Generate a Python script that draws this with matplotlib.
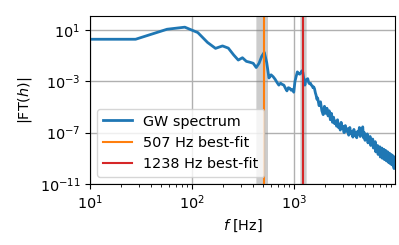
import matplotlib
matplotlib.use('Agg')
import matplotlib.pyplot as plt
import numpy as np

# GW spectrum: frequency (Hz) and log10 |FT(h)|
freq = [0, 28, 57, 85, 114, 142, 170, 199, 227, 256, 284, 312, 341, 369, 398,
        426, 454, 483, 511, 540, 568, 596, 625, 653, 682, 710, 738, 767, 795,
        824, 852, 880, 909, 937, 966, 994, 1022, 1051, 1079, 1108, 1136, 1164,
        1193, 1221, 1250, 1278, 1306, 1335, 1363, 1392, 1420, 1448, 1477, 1505,
        1534, 1562, 1590, 1619, 1647, 1676, 1704,
        1761, 1818, 1875, 1932, 1988, 2045, 2102, 2158, 2215, 2272, 2329, 2386,
        2442, 2499, 2556, 2613, 2670, 2726, 2783, 2840, 2897, 2954, 3010,
        3095, 3181, 3266, 3351, 3436, 3522, 3607, 3692, 3777, 3863, 3948, 4033,
        4118, 4204, 4289, 4374, 4459, 4544, 4630, 4715, 4800, 4885, 4970, 5056,
        5141, 5226, 5311, 5396, 5482, 5567, 5652, 5737, 5822, 5908, 5993, 6078,
        6163, 6248, 6334, 6419, 6504, 6589, 6674, 6760, 6845, 6930, 7015, 7100,
        7186, 7271, 7356, 7441, 7526, 7612, 7697, 7782, 7867, 7952, 8038, 8123,
        8208, 8293, 8378, 8464, 8549, 8634, 8719, 8804, 8890, 8975, 9060, 9145,
        9230, 9316, 9401, 9486, 9571, 9656, 9742]
log_ft = [0.27, 0.27, 1.05, 1.21, 0.79, 0.02, -0.44, -0.25, -0.42, -0.95, -1.35,
          -1.17, -1.45, -1.52, -1.6, -1.93, -1.6, -1.05, -0.75, -1.55, -2.75,
          -2.5, -2.65, -2.85, -3.1, -3.3, -3.15, -3.25, -3.3, -3.55, -3.75,
          -3.5, -3.55, -3.7, -3.65, -3.85, -3.0, -2.6, -2.27, -2.4, -2.45,
          -2.35, -2.19, -2.3, -2.9, -3.3, -2.9, -2.85, -2.8, -3.1, -3.2, -3.15,
          -3.3, -3.35, -3.5, -3.45, -3.6, -3.9, -4.1, -4.4, -4.3,
          -4.9, -4.6, -5.3, -5.6, -4.95, -5.5, -5.1, -5.7, -5.3, -6.0, -5.5,
          -6.2, -5.8, -6.3, -6.1, -6.5, -6.0, -6.6, -6.4, -6.8, -6.2, -6.7,
          -6.5,
          -7.0, -6.45, -6.9, -6.7, -7.2, -6.6, -7.1, -6.9, -7.35, -6.75, -7.2,
          -7.0, -7.4, -6.9, -7.1, -6.6, -7.3, -6.9, -7.1, -6.55, -7.4, -7.0,
          -7.6, -7.2, -7.5, -7.1, -7.8, -7.4, -7.7, -7.3, -8.0, -7.6, -7.9,
          -7.5, -8.2, -7.8, -8.1, -7.7, -8.5, -8.1, -8.4, -8.0, -8.7, -8.2,
          -8.6, -8.1, -8.9, -8.4, -8.7, -8.2, -9.0, -8.5, -8.8, -8.3, -9.1,
          -8.6, -8.9, -8.4, -9.2, -8.7, -9.0, -8.5, -9.3, -8.8, -9.1, -8.6,
          -9.4, -8.9, -9.2, -8.7, -9.5, -9.0, -9.3, -8.8, -9.6, -9.1, -9.8,
          -8.9, -9.6]

# best-fit peaks and their uncertainty bands (Hz)
peaks = [507, 1238]
peak_colors = ['tab:orange', 'tab:red']
bands_outer = [(424, 560), (1148, 1330)]
bands_inner = [(432, 550), (1160, 1318)]

plt.rcParams['font.size'] = 10.4


def main():
    fig = plt.figure(figsize=(3.99, 2.45), dpi=100)
    ax = fig.add_axes([90 / 399, 1 - 184 / 245, 305 / 399, (184 - 16.5) / 245])

    ax.plot(freq, 10.0 ** np.array(log_ft), color='tab:blue', lw=2,
            label='GW spectrum')
    for f, c, bo, bi in zip(peaks, peak_colors, bands_outer, bands_inner):
        ax.axvspan(*bo, color='gray', alpha=0.25, lw=0)
        ax.axvspan(*bi, color='gray', alpha=0.2, lw=0)
        ax.axvline(f, color=c, lw=1.5, label=f'{f} Hz best-fit')

    ax.set_xscale('log')
    ax.set_yscale('log')
    ax.set_xlim(10, 9770)
    ax.set_ylim(1e-11, 1.1e2)
    ax.set_yticks([1e-11, 1e-7, 1e-3, 1e1])
    ax.yaxis.set_minor_locator(matplotlib.ticker.NullLocator())
    ax.grid(True, which='major', color='#b0b0b0', lw=1)
    ax.set_axisbelow(True)

    ax.set_xlabel('$f$ [Hz]')
    ax.set_ylabel(r'$|\mathrm{FT}(h)|$')
    ax.legend(loc='lower left')

    fig.savefig('out.png', dpi=100)


if __name__ == '__main__':
    main()
